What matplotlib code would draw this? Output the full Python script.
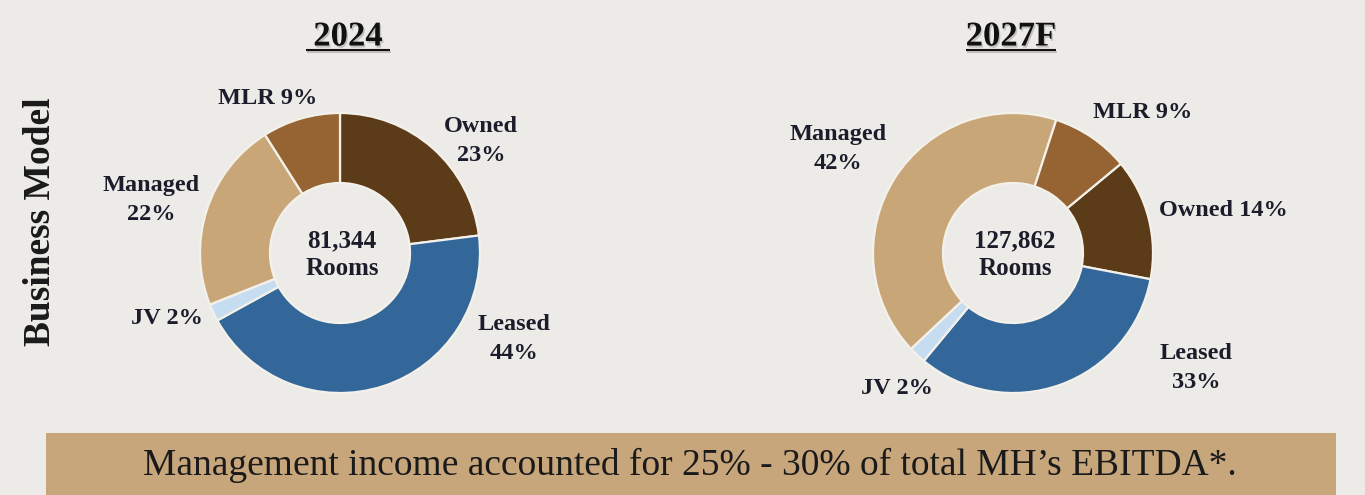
import matplotlib
matplotlib.use("Agg")
import matplotlib.pyplot as plt
import matplotlib.patheffects as pe
from matplotlib.patches import Rectangle

# ---- data ----
categories = ["Owned", "Leased", "JV", "Managed", "MLR"]
share_2024 = [23, 44, 2, 22, 9]
share_2027 = [14, 33, 2, 42, 9]
rooms_2024 = "81,344"
rooms_2027 = "127,862"
titles = ["2024", "2027F"]
colors = ["#5b3b18", "#336699", "#c6dcf0", "#c9a678", "#966433"]
banner_text = "Management income accounted for 25% - 30% of total MH\u2019s EBITDA*."
side_label = "Business Model"

W, H = 1365, 495
fig = plt.figure(figsize=(W / 100, H / 100), dpi=100)
fig.patch.set_facecolor("#ecebe8")
ax = fig.add_axes([0, 0, 1, 1])
ax.set_facecolor("#ecebe8")

def Y(y):
    return H - y

serif = ["Liberation Serif", "DejaVu Serif"]

def donut(cx, cy, values, start):
    ax.pie(values, colors=colors, startangle=start, counterclock=False,
           center=(cx, Y(cy)), radius=140, frame=True,
           wedgeprops=dict(width=70, edgecolor="#f4f1ea", linewidth=1.6))

donut(340, 253, share_2024, 90)
donut(1013, 253, share_2027, 90 - 360 * share_2027[0] / 100)

ax.set_xlim(0, W)
ax.set_ylim(0, H)
ax.set_aspect("auto")
ax.axis("off")

lab = dict(fontsize=17.5, family=serif, fontweight="bold", color="#1c1c2a",
           ha="center", va="center", linespacing=1.45)

def pct(i, vals):
    return f"{vals[i]}%"

# 2024 labels
ax.text(268, Y(98), f"MLR {pct(4, share_2024)}", **lab)
ax.text(481, Y(141), f"Owned\n{pct(0, share_2024)}", **lab)
ax.text(151, Y(200), f"Managed\n{pct(3, share_2024)}", **lab)
ax.text(167, Y(318), f"JV {pct(2, share_2024)}", **lab)
ax.text(514, Y(339), f"Leased\n{pct(1, share_2024)}", **lab)
ax.text(342, Y(255), f"{rooms_2024}\nRooms", **dict(lab, fontsize=18, linespacing=1.25))

# 2027 labels
ax.text(838, Y(149), f"Managed\n{pct(3, share_2027)}", **lab)
ax.text(1143, Y(113), f"MLR {pct(4, share_2027)}", **lab)
ax.text(1223, Y(211), f"Owned {pct(0, share_2027)}", **lab)
ax.text(1196, Y(368), f"Leased\n{pct(1, share_2027)}", **lab)
ax.text(897, Y(389), f"JV {pct(2, share_2027)}", **lab)
ax.text(1015, Y(255), f"{rooms_2027}\nRooms", **dict(lab, fontsize=18, linespacing=1.25))

# titles
sh = [pe.SimpleLineShadow(offset=(1, -1.5), alpha=0.18), pe.Normal()]
shp = [pe.SimplePatchShadow(offset=(1, -1.5), alpha=0.18), pe.Normal()]
for x, t, w in zip([348, 1011], titles, [42, 45]):
    ax.text(x, Y(37), t, fontsize=25, family=serif, fontweight="bold",
            ha="center", va="center", color="#111111", path_effects=shp)
    ax.plot([x - w, x + w], [Y(50), Y(50)], color="#111111", lw=1.5,
            solid_capstyle="butt", path_effects=sh)

# side label
ax.text(41, Y(222), side_label, rotation=90, fontsize=27, family=serif,
        fontweight="bold", ha="center", va="center", color="#1a1a1a")

# banner
ax.add_patch(Rectangle((46, 0), 1290, Y(433), facecolor="#c8a67c", edgecolor="none"))
ax.text(690, Y(465), banner_text, fontsize=27, family=serif, ha="center",
        va="center", color="#1a1a1a")

fig.savefig("out.png", dpi=100, facecolor=fig.get_facecolor())
